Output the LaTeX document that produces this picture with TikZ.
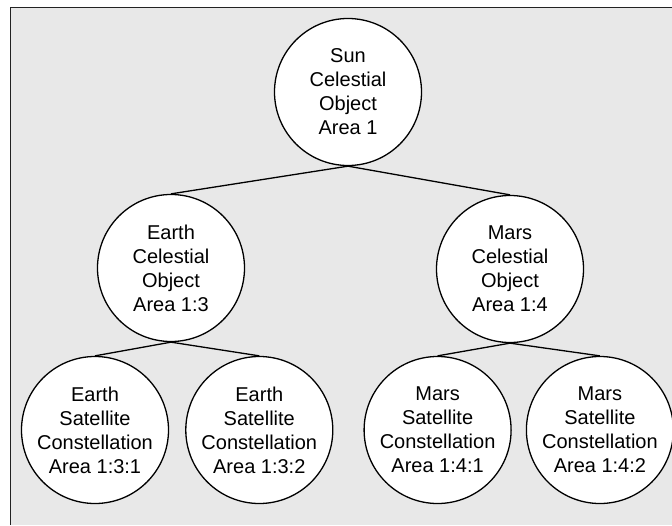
\documentclass[tikz,border=0pt]{standalone}
\usepackage{fontspec}
\setmainfont{Liberation Sans}
\usepackage{tikz}
\usetikzlibrary{positioning}
\definecolor{PanelGray}{HTML}{E8E8E8}
\definecolor{FrameDark}{HTML}{222222}

\begin{document}
\begin{tikzpicture}[
  x=1pt, y=-1pt,
  node distance=16pt,
  body/.style={circle, draw, line width=1.3pt, fill=white, minimum size=147pt,
    inner sep=0pt, align=center, font=\fontsize{20}{24}\selectfont},
  link/.style={line width=1.3pt},
  frame/.style={line width=1.8pt, draw=FrameDark}
]
\useasboundingbox (0,0) rectangle (672,525);
\fill[white] (0,0) rectangle (672,525);
\fill[PanelGray] (10.5,7.5) rectangle (672,525);
\draw[frame] (10.5,525) |- (672,7.5);

\node[body] (sun) at (348,92) {Sun\\Celestial\\Object\\Area 1};
\node[body] (earth) at (171,268) {Earth\\Celestial\\Object\\Area 1:3};
\node[body] (mars) at (510,269) {Mars\\Celestial\\Object\\Area 1:4};

\node[body] (earthA) at (95,430) {Earth\\Satellite\\Constellation\\Area 1:3:1};
\node[body, right=of earthA] (earthB) {Earth\\Satellite\\Constellation\\Area 1:3:2};
\node[body, right=30pt of earthB] (marsA) {Mars\\Satellite\\Constellation\\Area 1:4:1};
\node[body, right=14pt of marsA] (marsB) {Mars\\Satellite\\Constellation\\Area 1:4:2};

\draw[link] (sun.south) -- (earth.north);
\draw[link] (sun.south) -- (mars.north);
\draw[link] (earth.south) -- (earthA.north);
\draw[link] (earth.south) -- (earthB.north);
\draw[link] (mars.south) -- (marsA.north);
\draw[link] (mars.south) -- (marsB.north);
\end{tikzpicture}
\end{document}
